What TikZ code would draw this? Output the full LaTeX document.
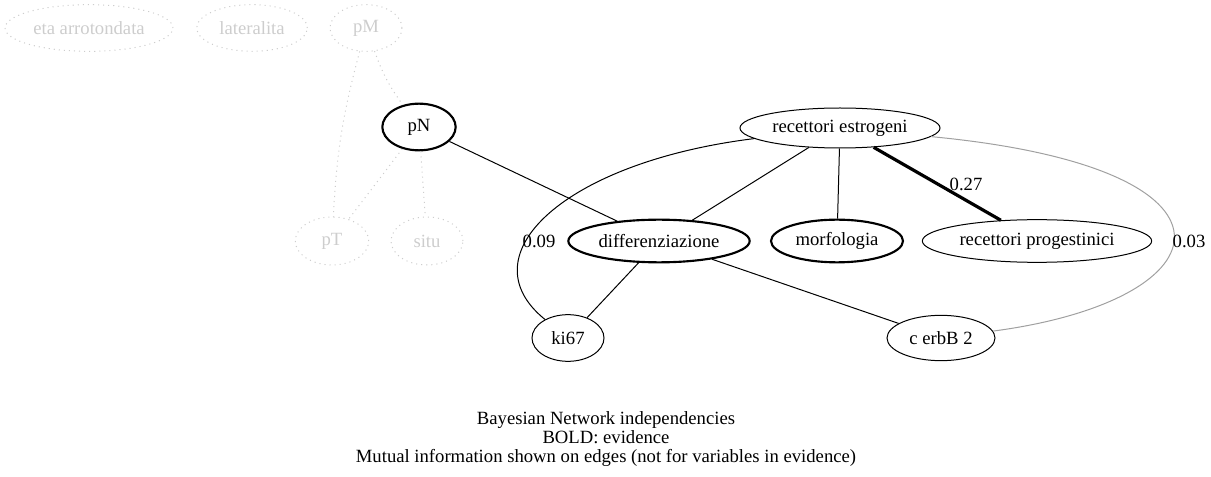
\documentclass[tikz,border=0pt]{standalone}
\usepackage{fontspec}
\setmainfont{Liberation Serif}
\usetikzlibrary{shapes.geometric}
\definecolor{faintgray}{RGB}{205,205,205}
\definecolor{weakgray}{RGB}{160,160,160}
\tikzset{
  var/.style={ellipse, draw, line width=0.75pt, inner sep=0pt,
    font=\fontsize{14}{17}\selectfont},
  evid/.style={var, line width=1.6pt},
  faintvar/.style={var, draw=faintgray, text=faintgray,
    dash pattern=on 0.8pt off 3pt},
  link/.style={line width=0.75pt},
  stronglink/.style={line width=2.4pt},
  weaklink/.style={line width=0.75pt, draw=weakgray},
  faintlink/.style={line width=0.75pt, draw=faintgray, dash pattern=on 0.8pt off 3pt},
  milabel/.style={inner sep=0pt, font=\fontsize{14}{14.25}\selectfont}
}
\begin{document}
\begin{tikzpicture}[x=0.75pt, y=-0.75pt]
      \useasboundingbox (0,0) rectangle (1211,477);
      % variables
      \node[faintvar, minimum width=126pt, minimum height=35pt] (eta) at (89,28) {eta arrotondata};
      \node[faintvar, minimum width=83pt, minimum height=35pt] (lat) at (252,28) {lateralita};
      \node[faintvar, minimum width=54pt, minimum height=35pt] (pM) at (366,28) {pM};
      \node[evid, minimum width=55pt, minimum height=35pt] (pN) at (419,127) {pN};
      \node[faintvar, minimum width=55pt, minimum height=36pt] (pT) at (332,241) {pT};
      \node[faintvar, minimum width=54pt, minimum height=36pt] (situ) at (427,241) {situ};
      \node[var, minimum width=150pt, minimum height=30pt] (re) at (840,128) {recettori estrogeni};
      \node[evid, minimum width=136pt, minimum height=32pt] (diff) at (659,241) {differenziazione};
      \node[evid, minimum width=99pt, minimum height=32pt] (morf) at (837,241) {morfologia};
      \node[var, minimum width=172pt, minimum height=32pt] (rp) at (1037,241) {recettori progestinici};
      \node[var, minimum width=54pt, minimum height=35pt] (ki) at (568,338) {ki67};
      \node[var, minimum width=81pt, minimum height=34pt] (cerb) at (941,338) {c erbB 2};
      % edges
      \begin{scope}[-]
        \draw[faintlink] (pM) to[bend right=8] (pN);
        \draw[faintlink] (pM) to[bend right=6] (pT);
        \draw[faintlink] (pN) to (pT);
        \draw[faintlink] (pN) to (situ);
        \draw[link] (pN) to (diff);
        \draw[link] (re) to (diff);
        \draw[link] (re) to (morf);
        \draw[stronglink] (re) to (rp);
        \draw[link] (re) .. controls (565,162) and (465,255) .. (ki);
        \draw[link] (diff) to (ki);
        \draw[link] (diff) to (cerb);
        \draw[weaklink] (re) .. controls (1262,168) and (1228,300) .. (cerb);
      \end{scope}
      % mutual information
      \node[milabel] (mi1) at (539,241) {0.09};
      \node[milabel] (mi2) at (966,184) {0.27};
      \node[milabel] (mi3) at (1189,241) {0.03};
      % caption
      \node[milabel, align=center] (cap) at (606,439)
        {Bayesian Network independencies\\BOLD: evidence\\Mutual information shown on edges (not for variables in evidence)};
    \end{tikzpicture}
\end{document}
